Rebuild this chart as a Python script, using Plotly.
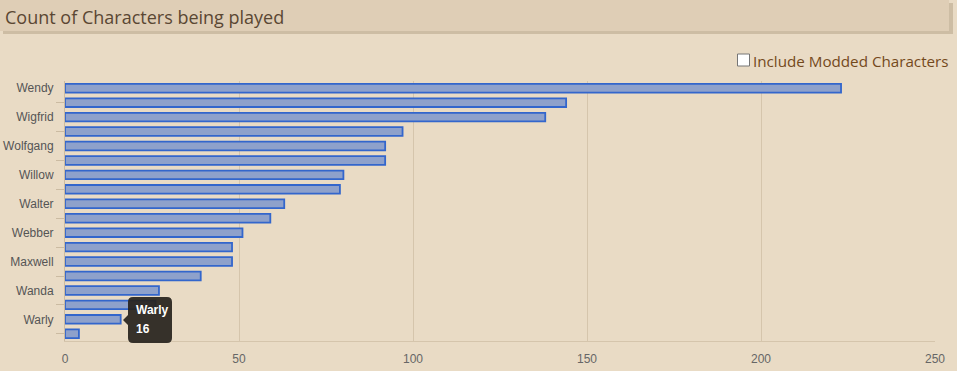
import plotly.graph_objects as go

# ---- data ----
characters = ["Wendy", "Wilson", "Wigfrid", "Wickerbottom", "Wolfgang", "Wormwood",
              "Willow", "Wortox", "Walter", "WX-78", "Webber", "Wurt",
              "Maxwell", "Winona", "Wanda", "Woodie", "Warly", "Wes"]
counts = [223, 144, 138, 97, 92, 92, 80, 79, 63, 59, 51, 48, 48, 39, 27, 26, 16, 4]
x_ticks = [0, 50, 100, 150, 200, 250]
title_text = "Count of Characters being played"
checkbox_text = "Include Modded Characters"
tooltip_name = "Warly"
tooltip_value = 16

# ---- layout geometry (pixels) ----
W, H = 957, 371
L, R, T, B = 65, 935, 81, 341


def px(x):
    return (x - L) / (R - L)


def py(y):
    return (B - y) / (B - T)


BG = "#e9dbc5"
idx = list(range(len(characters)))
labeled = idx[0::2]
unlabeled = idx[1::2]

fig = go.Figure()
fig.add_trace(go.Bar(
    x=counts, y=idx, orientation="h", width=0.6,
    marker=dict(color="#8ea1cb", line=dict(color="#3366cc", width=1.8)),
    hovertext=characters, hoverinfo="text+x",
))

shapes = []
# header shadow + header
shapes.append(dict(type="rect", xref="paper", yref="paper",
                   x0=px(3), x1=px(953), y0=py(34), y1=py(3),
                   fillcolor="#cdbda4", line=dict(width=0), layer="below"))
shapes.append(dict(type="rect", xref="paper", yref="paper",
                   x0=px(0), x1=px(949), y0=py(31), y1=py(0),
                   fillcolor="#dfceb6", line=dict(width=0), layer="below"))
# checkbox
shapes.append(dict(type="rect", xref="paper", yref="paper",
                   x0=px(737.5), x1=px(749.5), y0=py(66), y1=py(54),
                   fillcolor="#ffffff", line=dict(color="#767676", width=1)))
# tooltip (rounded box + pointer)
x0, x1, y0, y1, r = 128, 172, 297, 343, 5
path = (f"M {px(x0 + r)},{py(y0)} L {px(x1 - r)},{py(y0)} "
        f"Q {px(x1)},{py(y0)} {px(x1)},{py(y0 + r)} "
        f"L {px(x1)},{py(y1 - r)} Q {px(x1)},{py(y1)} {px(x1 - r)},{py(y1)} "
        f"L {px(x0 + r)},{py(y1)} Q {px(x0)},{py(y1)} {px(x0)},{py(y1 - r)} "
        f"L {px(x0)},{py(325)} L {px(123)},{py(320)} L {px(x0)},{py(315)} "
        f"L {px(x0)},{py(y0 + r)} Q {px(x0)},{py(y0)} {px(x0 + r)},{py(y0)} Z")
shapes.append(dict(type="path", xref="paper", yref="paper", path=path,
                   fillcolor="rgba(40,35,30,0.93)", line=dict(width=0)))

annotations = [
    dict(text=title_text, xref="paper", yref="paper", x=px(3), y=py(17),
         xanchor="left", yanchor="middle", showarrow=False,
         font=dict(family="Open Sans", size=18, color="#5a4733")),
    dict(text=checkbox_text, xref="paper", yref="paper", x=px(751), y=py(61),
         xanchor="left", yanchor="middle", showarrow=False,
         font=dict(family="Open Sans", size=15.2, color="#74491c")),
    dict(text=f"<b>{tooltip_name}</b>", xref="paper", yref="paper", x=px(134), y=py(310),
         xanchor="left", yanchor="middle", showarrow=False,
         font=dict(family="Arial", size=12, color="#ffffff")),
    dict(text=f"<b>{tooltip_value}</b>", xref="paper", yref="paper", x=px(134), y=py(329),
         xanchor="left", yanchor="middle", showarrow=False,
         font=dict(family="Arial", size=12, color="#ffffff")),
]

fig.update_layout(
    width=W, height=H,
    margin=dict(l=L, r=W - R, t=T, b=H - B, pad=0, autoexpand=False),
    paper_bgcolor=BG, plot_bgcolor=BG,
    showlegend=False,
    shapes=shapes, annotations=annotations,
    font=dict(family="Arial", size=12, color="#555555"),
    xaxis=dict(range=[0, 250], tickvals=x_ticks, showgrid=True, gridcolor="#d5c5ac",
               gridwidth=1, zeroline=False, showline=True, linecolor="#d5c5ac",
               ticks="outside", ticklen=7, tickcolor="rgba(0,0,0,0)", automargin=False,
               tickfont=dict(family="Arial", size=12, color="#666666"), fixedrange=True),
    yaxis=dict(range=[len(characters) - 0.5, -0.5], tickmode="array",
               tickvals=labeled, ticktext=[characters[i] for i in labeled],
               showgrid=False, zeroline=False, showline=True, linecolor="#cbbba2",
               ticks="outside", ticklen=8, tickcolor="rgba(0,0,0,0)", automargin=False,
               minor=dict(tickmode="array", tickvals=unlabeled, ticks="outside",
                          ticklen=8, tickcolor="#cbbba2", showgrid=False),
               tickfont=dict(family="Arial", size=12, color="#555555"), fixedrange=True),
)

fig.write_html("out.html")
